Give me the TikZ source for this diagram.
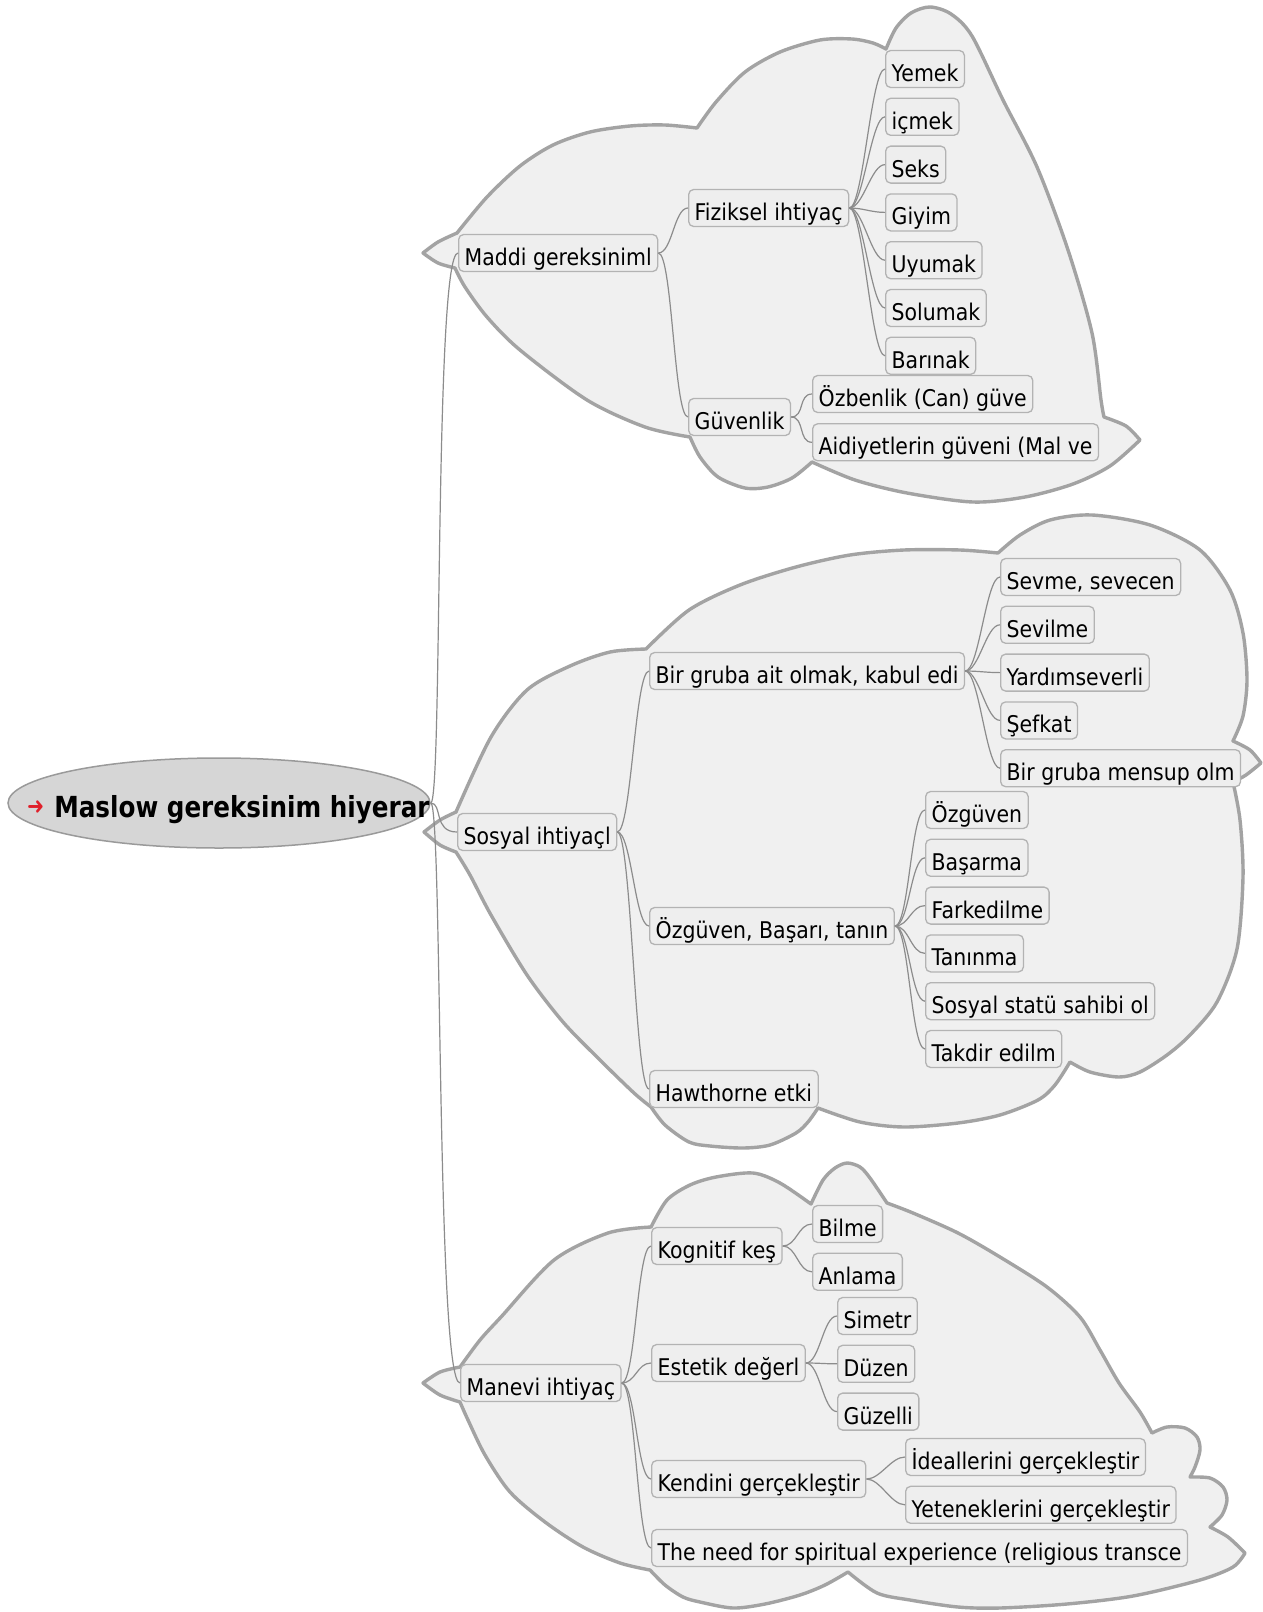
\documentclass[tikz,border=0pt]{standalone}
\usepackage{fontspec}
\newfontfamily\mapfont[FakeStretch=0.89]{DejaVu Sans}
\newfontfamily\rootfont[FakeStretch=0.85]{DejaVu Sans}
\usetikzlibrary{positioning,shapes.geometric}

\definecolor{cloudfill}{HTML}{F0F0F0}
\definecolor{cloudline}{HTML}{A3A3A3}
\definecolor{boxfill}{HTML}{EEEEEE}
\definecolor{boxline}{HTML}{B3B3B3}
\definecolor{linkgray}{HTML}{8C8C8C}
\definecolor{rootfill}{HTML}{D6D6D6}
\definecolor{rootline}{HTML}{9A9A9A}
\definecolor{arrowred}{HTML}{E0202A}

\tikzset{
  topic/.style={draw=boxline, fill=boxfill, rounded corners=5pt, line width=1.3pt,
    anchor=west, inner xsep=6pt, inner ysep=0pt, minimum height=37pt,
    text height=25pt, text depth=0pt, font=\mapfont\fontsize{23}{27}\selectfont},
  branch/.style={draw=linkgray, line width=1.2pt,
    to path={.. controls +(14,0) and +(-14,0) .. (\tikztotarget) \tikztonodes}},
  trunk/.style={branch,
    to path={.. controls +(12,0) and +(-24,0) .. (\tikztotarget) \tikztonodes}},
  bubble/.style={draw=cloudline, fill=cloudfill, line width=3.4pt, line join=round},
}

\begin{document}
\begin{tikzpicture}[x=1pt, y=-1pt]
   \fill[white] (0,0) rectangle (1263,1612);
   \useasboundingbox (0,0) rectangle (1263,1612);

   % clouds
   \filldraw[bubble]
     plot[smooth] coordinates {(423,253) (438,242) (457,233)}
     -- plot[smooth] coordinates {(457,233) (487,197) (520,166) (553,145) (590,132) (630,126) (665,125) (697,128)}
     -- plot[smooth] coordinates {(697,128) (716,102) (745,72) (780,52) (820,40) (852,39) (873,43) (886,49)}
     -- plot[smooth] coordinates {(886,49) (896,28) (911,13) (930,7) (951,14) (972,36) (1003,100) (1037,167) (1068,250) (1092,333) (1101,400) (1104,417)}
     -- plot[smooth] coordinates {(1104,417) (1126,426) (1140,440)}
     -- plot[smooth] coordinates {(1140,440) (1110,466) (1073,484) (1025,497) (973,502) (907,493) (855,480) (812,462)}
     -- plot[smooth] coordinates {(812,462) (792,478) (768,487) (745,488) (718,477) (700,457) (690,437)}
     -- plot[smooth] coordinates {(690,437) (645,427) (587,400) (520,350) (487,317) (465,287) (455,268)}
     -- plot[smooth] coordinates {(455,268) (438,263) (423,253)}
     -- cycle;
   \filldraw[bubble]
     plot[smooth] coordinates {(424,832) (440,820) (456,812)}
     -- plot[smooth] coordinates {(456,812) (491,737) (527,690) (570,666) (610,652) (646,649)}
     -- plot[smooth] coordinates {(646,649) (689,610) (740,585) (796,567) (850,555) (904,550) (960,550) (998,553)}
     -- plot[smooth] coordinates {(998,553) (1020,535) (1050,520) (1092,515) (1150,525) (1200,550) (1230,590) (1243,633) (1247,680) (1243,716) (1233,741)}
     -- plot[smooth] coordinates {(1233,741) (1250,750) (1261,763)}
     -- plot[smooth] coordinates {(1261,763) (1246,775) (1233,782)}
     -- plot[smooth] coordinates {(1233,782) (1240,820) (1243,877) (1237,949) (1217,1002) (1190,1035) (1167,1055) (1140,1072) (1119,1077) (1090,1072) (1070,1062)}
     -- plot[smooth] coordinates {(1070,1062) (1055,1085) (1038,1100) (1000,1115) (958,1123) (904,1127) (860,1122) (818,1108)}
     -- plot[smooth] coordinates {(818,1108) (808,1122) (796,1133) (770,1145) (743,1148) (710,1146) (689,1142) (665,1125) (651,1107)}
     -- plot[smooth] coordinates {(651,1107) (634,1093) (600,1060) (563,1022) (527,975) (491,915) (470,875) (456,852)}
     -- plot[smooth] coordinates {(456,852) (440,845) (424,832)}
     -- cycle;
   \filldraw[bubble]
     plot[smooth] coordinates {(423,1383) (440,1372) (460,1367)}
     -- plot[smooth] coordinates {(460,1367) (480,1340) (501,1317) (554,1260) (608,1233) (651,1227)}
     -- plot[smooth] coordinates {(651,1227) (667,1200) (690,1185) (716,1177) (753,1173) (780,1183) (811,1204)}
     -- plot[smooth] coordinates {(811,1204) (823,1180) (835,1168) (847,1163) (860,1167) (870,1178) (887,1203)}
     -- plot[smooth] coordinates {(887,1203) (913,1213) (958,1233) (1000,1257) (1047,1287) (1080,1317) (1100,1350) (1119,1383) (1140,1412) (1152,1433)}
     -- plot[smooth] coordinates {(1152,1433) (1167,1427) (1185,1428) (1197,1437) (1200,1450) (1195,1467) (1190,1477)}
     -- plot[smooth] coordinates {(1190,1477) (1210,1478) (1223,1487) (1227,1500) (1222,1515) (1210,1527)}
     -- plot[smooth] coordinates {(1210,1527) (1228,1537) (1245,1553)}
     -- plot[smooth] coordinates {(1245,1553) (1233,1567) (1200,1580) (1133,1596) (1067,1604) (1000,1608) (958,1607) (910,1600) (877,1593) (848,1572)}
     -- plot[smooth] coordinates {(848,1572) (825,1585) (800,1595) (765,1604) (733,1608) (700,1602) (683,1597) (665,1585) (650,1570)}
     -- plot[smooth] coordinates {(650,1570) (620,1563) (583,1547) (545,1522) (510,1492) (485,1455) (468,1420) (460,1402)}
     -- plot[smooth] coordinates {(460,1402) (440,1395) (423,1383)}
     -- cycle;

   % root
   \node[ellipse, draw=rootline, fill=rootfill, line width=1.5pt, minimum width=422pt,
         minimum height=90pt, inner sep=0pt] (root) at (219,803) {};
   \node[anchor=base west, inner sep=0pt, font=\rootfont\bfseries\fontsize{29}{33}\selectfont]
         (roottext) at (27,817)
         {\raisebox{3pt}{\color{arrowred}\fontsize{24}{24}\selectfont ➜}\hspace{10pt}Maslow gereksinim hiyerar};

   % first level
   \node[topic] (maddi)  at (458,253)  {Maddi gereksiniml};
   \node[topic] (sosyal) at (457,832)  {Sosyal ihtiyaçl};
   \node[topic] (manevi) at (460,1383) {Manevi ihtiyaç};

   % maddi
   \node[topic] (fiziksel) at (688,208) {Fiziksel ihtiyaç};
   \node[topic] (guvenlik) at (688,417) {Güvenlik};
   \node[topic] (yemek) at (885,69) {Yemek};
   \node[topic, below=9.5pt of yemek.south west, anchor=north west] (icmek) {içmek};
   \node[topic, below=9.5pt of icmek.south west, anchor=north west] (seks) {Seks};
   \node[topic, below=9.5pt of seks.south west, anchor=north west] (giyim) {Giyim};
   \node[topic, below=9.5pt of giyim.south west, anchor=north west] (uyumak) {Uyumak};
   \node[topic, below=9.5pt of uyumak.south west, anchor=north west] (solumak) {Solumak};
   \node[topic, below=9.5pt of solumak.south west, anchor=north west] (barinak) {Barınak};
   \node[topic] (ozbenlik) at (812,394) {Özbenlik (Can) güve};
   \node[topic, below=10pt of ozbenlik.south west, anchor=north west] (aidiyet) {Aidiyetlerin güveni (Mal ve};

   % sosyal
   \node[topic] (aitolmak)  at (649,671)  {Bir gruba ait olmak, kabul edi};
   \node[topic] (ozguven)   at (649,926)  {Özgüven, Başarı, tanın};
   \node[topic] (hawthorne) at (649,1089) {Hawthorne etki};
   \node[topic] (sevme) at (1000,577) {Sevme, sevecen};
   \node[topic, below=9.5pt of sevme.south west, anchor=north west] (sevilme) {Sevilme};
   \node[topic, below=9.5pt of sevilme.south west, anchor=north west] (yardim) {Yardımseverli};
   \node[topic, below=9.5pt of yardim.south west, anchor=north west] (sefkat) {Şefkat};
   \node[topic, below=9.5pt of sefkat.south west, anchor=north west] (mensup) {Bir gruba mensup olm};
   \node[topic] (kendine) at (925,810) {Özgüven};
   \node[topic, below=9.5pt of kendine.south west, anchor=north west] (basarma) {Başarma};
   \node[topic, below=9.5pt of basarma.south west, anchor=north west] (farkedilme) {Farkedilme};
   \node[topic, below=9.5pt of farkedilme.south west, anchor=north west] (taninma) {Tanınma};
   \node[topic, below=9.5pt of taninma.south west, anchor=north west] (statu) {Sosyal statü sahibi ol};
   \node[topic, below=9.5pt of statu.south west, anchor=north west] (takdir) {Takdir edilm};

   % manevi
   \node[topic] (kognitif)  at (651,1246) {Kognitif keş};
   \node[topic] (estetik)   at (651,1363) {Estetik değerl};
   \node[topic] (kendini)   at (651,1479) {Kendini gerçekleştir};
   \node[topic] (spiritual) at (651,1548) {The need for spiritual experience (religious transce};
   \node[topic] (bilme) at (812,1224) {Bilme};
   \node[topic, below=9.5pt of bilme.south west, anchor=north west] (anlama) {Anlama};
   \node[topic] (simetri) at (837,1316) {Simetr};
   \node[topic, below=9.5pt of simetri.south west, anchor=north west] (duzen) {Düzen};
   \node[topic, below=9.5pt of duzen.south west, anchor=north west] (guzellik) {Güzelli};
   \node[topic] (ideal) at (905,1457) {İdeallerini gerçekleştir};
   \node[topic, below=9.5pt of ideal.south west, anchor=north west] (yetenek) {Yeteneklerini gerçekleştir};

   % links
   \path (root.east) edge[trunk] (maddi.west)
                     edge[trunk] (sosyal.west)
                     edge[trunk] (manevi.west);
   \path (maddi.east) edge[branch] (fiziksel.west)
                      edge[branch] (guvenlik.west)
         (fiziksel.east) edge[branch] (yemek.west)
                         edge[branch] (icmek.west)
                         edge[branch] (seks.west)
                         edge[branch] (giyim.west)
                         edge[branch] (uyumak.west)
                         edge[branch] (solumak.west)
                         edge[branch] (barinak.west)
         (guvenlik.east) edge[branch] (ozbenlik.west)
                         edge[branch] (aidiyet.west);
   \path (sosyal.east) edge[branch] (aitolmak.west)
                       edge[branch] (ozguven.west)
                       edge[branch] (hawthorne.west)
         (aitolmak.east) edge[branch] (sevme.west)
                         edge[branch] (sevilme.west)
                         edge[branch] (yardim.west)
                         edge[branch] (sefkat.west)
                         edge[branch] (mensup.west)
         (ozguven.east) edge[branch] (kendine.west)
                        edge[branch] (basarma.west)
                        edge[branch] (farkedilme.west)
                        edge[branch] (taninma.west)
                        edge[branch] (statu.west)
                        edge[branch] (takdir.west);
   \path (manevi.east) edge[branch] (kognitif.west)
                       edge[branch] (estetik.west)
                       edge[branch] (kendini.west)
                       edge[branch] (spiritual.west)
         (kognitif.east) edge[branch] (bilme.west)
                         edge[branch] (anlama.west)
         (estetik.east) edge[branch] (simetri.west)
                        edge[branch] (duzen.west)
                        edge[branch] (guzellik.west)
         (kendini.east) edge[branch] (ideal.west)
                        edge[branch] (yetenek.west);
\end{tikzpicture}
\end{document}
